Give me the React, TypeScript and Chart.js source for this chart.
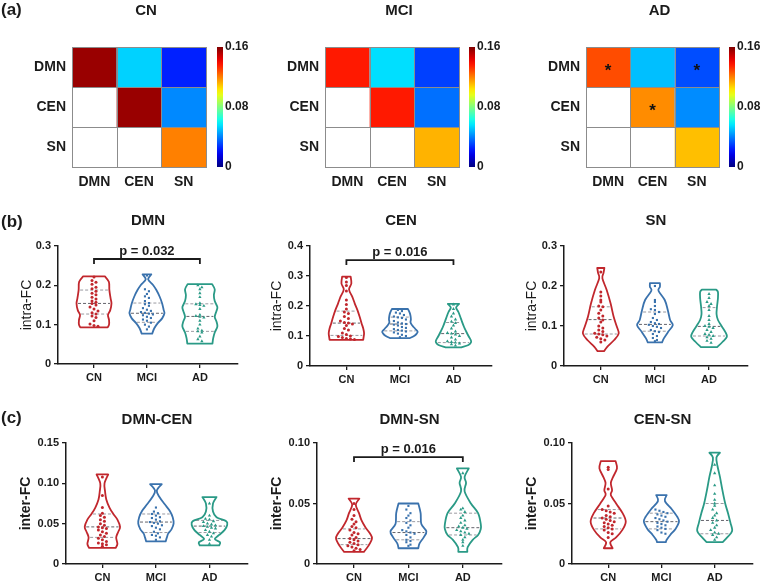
import React, { useEffect, useRef } from 'react';
import { Chart, registerables } from 'chart.js';

Chart.register(...registerables);

const FONT_FAMILY = '"Liberation Sans", Arial, Helvetica, sans-serif';
const INK = '#1b1b1b';
Chart.defaults.font.family = FONT_FAMILY;
Chart.defaults.color = INK;

// ---------------- categories ----------------
const NETWORKS = ['DMN', 'CEN', 'SN'];
const GROUPS = ['CN', 'MCI', 'AD'];
const GROUP_COLORS = ['#c1272d', '#3a72ad', '#2a9a86'];
const GROUP_POINT_STYLES = ['circle', 'rect', 'triangle'];

// ---------------- (a) mean FC matrices ----------------
const FC_MAX = 0.16;
const COLORBAR_TICKS = [0, 0.08, 0.16];
const COLORBAR_LABELS = ['0', '0.08', '0.16'];
const FC_CN = [[0.156, 0.053, 0.025], [null, 0.156, 0.0415], [null, null, 0.12]];
const FC_MCI = [[0.136, 0.055, 0.03], [null, 0.136, 0.0376], [null, null, 0.112]];
const FC_AD = [[0.128, 0.05, 0.032], [null, 0.118, 0.042], [null, null, 0.11]];
const SIG_NONE = [[false, false, false], [false, false, false], [false, false, false]];
const SIG_AD = [[true, false, true], [false, true, false], [false, false, false]];

// ---------------- (b) intra-FC ----------------
const INTRA_TICKS_03 = [0, 0.1, 0.2, 0.3];
const INTRA_LABELS_03 = ['0', '0.1', '0.2', '0.3'];
const INTRA_TICKS_04 = [0, 0.1, 0.2, 0.3, 0.4];
const INTRA_LABELS_04 = ['0', '0.1', '0.2', '0.3', '0.4'];

const DMN_VALUES = [
  [0.221, 0.212, 0.208, 0.203, 0.195, 0.191, 0.185, 0.18, 0.176, 0.17, 0.165, 0.16, 0.157, 0.154, 0.15, 0.145, 0.14, 0.135, 0.13, 0.127, 0.122, 0.118, 0.11, 0.102, 0.098, 0.096],
  [0.225, 0.19, 0.185, 0.178, 0.172, 0.168, 0.16, 0.155, 0.152, 0.148, 0.142, 0.138, 0.135, 0.132, 0.13, 0.128, 0.126, 0.124, 0.12, 0.117, 0.113, 0.11, 0.105, 0.1, 0.095, 0.088],
  [0.2, 0.195, 0.19, 0.18, 0.17, 0.155, 0.152, 0.15, 0.148, 0.14, 0.125, 0.122, 0.12, 0.118, 0.11, 0.1, 0.09, 0.085, 0.083, 0.08, 0.07, 0.063, 0.058],
];
const DMN_SHAPE_Y = [
  [0.093, 0.1, 0.112, 0.125, 0.137, 0.154, 0.167, 0.188, 0.209, 0.223],
  [0.077, 0.091, 0.104, 0.116, 0.129, 0.137, 0.154, 0.171, 0.188, 0.201, 0.215, 0.228],
  [0.052, 0.065, 0.08, 0.095, 0.108, 0.12, 0.135, 0.145, 0.16, 0.175, 0.19, 0.203],
];
const DMN_SHAPE_W = [
  [0.78, 0.86, 0.86, 0.8, 0.93, 1.0, 0.95, 0.88, 0.85, 0.62],
  [0.3, 0.42, 0.62, 0.87, 1.0, 0.96, 0.87, 0.73, 0.54, 0.35, 0.07, 0.25],
  [0.72, 0.76, 0.85, 1.0, 0.95, 0.85, 0.95, 1.0, 0.85, 0.8, 0.85, 0.7],
];
const DMN_QUARTILES = [[0.127, 0.154, 0.188], [0.106, 0.129, 0.155], [0.083, 0.121, 0.153]];

const CEN_VALUES = [
  [0.295, 0.28, 0.268, 0.25, 0.22, 0.205, 0.19, 0.18, 0.175, 0.165, 0.158, 0.15, 0.145, 0.143, 0.14, 0.135, 0.125, 0.12, 0.11, 0.105, 0.1, 0.098, 0.095, 0.092, 0.09, 0.088],
  [0.187, 0.183, 0.178, 0.175, 0.17, 0.165, 0.162, 0.16, 0.155, 0.15, 0.145, 0.142, 0.14, 0.138, 0.135, 0.13, 0.127, 0.123, 0.12, 0.118, 0.115, 0.112, 0.108, 0.104, 0.1, 0.096],
  [0.205, 0.19, 0.175, 0.165, 0.155, 0.148, 0.143, 0.135, 0.125, 0.115, 0.11, 0.108, 0.105, 0.1, 0.095, 0.088, 0.082, 0.08, 0.078, 0.075, 0.072, 0.068],
];
const CEN_SHAPE_Y = [
  [0.087, 0.098, 0.11, 0.126, 0.142, 0.164, 0.187, 0.209, 0.231, 0.255, 0.275, 0.298],
  [0.093, 0.1, 0.108, 0.115, 0.125, 0.135, 0.145, 0.155, 0.167, 0.178, 0.19],
  [0.062, 0.07, 0.08, 0.09, 0.1, 0.115, 0.13, 0.15, 0.165, 0.18, 0.195, 0.207],
];
const CEN_SHAPE_W = [
  [0.95, 0.98, 1.0, 0.95, 0.86, 0.75, 0.62, 0.47, 0.33, 0.15, 0.28, 0.24],
  [0.55, 0.8, 0.95, 1.0, 0.85, 0.7, 0.6, 0.62, 0.6, 0.55, 0.45],
  [0.45, 0.85, 1.0, 0.95, 0.85, 0.72, 0.6, 0.47, 0.38, 0.28, 0.15, 0.32],
];
const CEN_QUARTILES = [[0.102, 0.143, 0.183], [0.117, 0.14, 0.163], [0.078, 0.108, 0.145]];

const SN_VALUES = [
  [0.235, 0.185, 0.175, 0.165, 0.16, 0.15, 0.148, 0.14, 0.132, 0.125, 0.12, 0.115, 0.11, 0.1, 0.095, 0.09, 0.086, 0.082, 0.08, 0.078, 0.075, 0.072, 0.068, 0.065, 0.06],
  [0.2, 0.165, 0.16, 0.15, 0.142, 0.14, 0.135, 0.13, 0.12, 0.115, 0.11, 0.107, 0.105, 0.103, 0.1, 0.098, 0.095, 0.09, 0.087, 0.085, 0.08, 0.075, 0.07, 0.065, 0.062],
  [0.18, 0.17, 0.16, 0.155, 0.15, 0.14, 0.125, 0.115, 0.105, 0.1, 0.098, 0.095, 0.09, 0.085, 0.08, 0.078, 0.075, 0.072, 0.068, 0.063, 0.058],
];
const SN_SHAPE_Y = [
  [0.037, 0.048, 0.065, 0.081, 0.098, 0.123, 0.156, 0.19, 0.219, 0.232, 0.245],
  [0.059, 0.069, 0.086, 0.102, 0.115, 0.14, 0.165, 0.188, 0.198, 0.207],
  [0.047, 0.06, 0.073, 0.086, 0.1, 0.115, 0.13, 0.15, 0.17, 0.185, 0.191],
];
const SN_SHAPE_W = [
  [0.18, 0.36, 0.75, 1.0, 0.9, 0.72, 0.55, 0.33, 0.09, 0.15, 0.2],
  [0.4, 0.5, 0.75, 1.0, 0.85, 0.72, 0.55, 0.2, 0.28, 0.28],
  [0.45, 0.75, 1.0, 0.9, 0.7, 0.5, 0.42, 0.45, 0.5, 0.5, 0.4],
];
const SN_QUARTILES = [[0.08, 0.116, 0.148], [0.087, 0.104, 0.135], [0.075, 0.099, 0.146]];

// ---------------- (c) inter-FC ----------------
const INTER_TICKS_15 = [0, 0.05, 0.1, 0.15];
const INTER_LABELS_15 = ['0', '0.05', '0.10', '0.15'];
const INTER_TICKS_10 = [0, 0.05, 0.1];
const INTER_LABELS_10 = ['0', '0.05', '0.10'];

const DMNCEN_VALUES = [
  [0.108, 0.085, 0.07, 0.063, 0.06, 0.058, 0.055, 0.053, 0.05, 0.048, 0.046, 0.045, 0.044, 0.042, 0.04, 0.038, 0.036, 0.034, 0.032, 0.03, 0.028, 0.026, 0.025, 0.024, 0.022],
  [0.07, 0.065, 0.063, 0.062, 0.06, 0.058, 0.057, 0.055, 0.053, 0.052, 0.051, 0.05, 0.048, 0.047, 0.045, 0.043, 0.04, 0.038, 0.036, 0.035, 0.033, 0.03],
  [0.075, 0.06, 0.056, 0.055, 0.053, 0.052, 0.05, 0.049, 0.048, 0.047, 0.046, 0.045, 0.044, 0.042, 0.04, 0.038, 0.036, 0.034, 0.03, 0.025],
];
const DMNCEN_SHAPE_Y = [
  [0.02, 0.025, 0.033, 0.04, 0.046, 0.055, 0.062, 0.07, 0.08, 0.09, 0.1, 0.111],
  [0.028, 0.033, 0.038, 0.043, 0.05, 0.058, 0.066, 0.074, 0.083, 0.091, 0.099],
  [0.023, 0.027, 0.031, 0.036, 0.042, 0.048, 0.053, 0.058, 0.065, 0.075, 0.083],
];
const DMNCEN_SHAPE_W = [
  [0.75, 0.85, 0.78, 0.9, 1.0, 0.85, 0.62, 0.4, 0.22, 0.15, 0.12, 0.33],
  [0.55, 0.62, 0.7, 0.88, 1.0, 0.95, 0.78, 0.5, 0.2, 0.05, 0.33],
  [0.55, 0.6, 0.3, 0.55, 0.85, 1.0, 0.95, 0.4, 0.2, 0.2, 0.4],
];
const DMNCEN_QUARTILES = [[0.033, 0.046, 0.062], [0.039, 0.052, 0.062], [0.039, 0.047, 0.054]];

const DMNSN_VALUES = [
  [0.05, 0.045, 0.04, 0.037, 0.035, 0.033, 0.031, 0.03, 0.028, 0.026, 0.025, 0.024, 0.022, 0.021, 0.02, 0.019, 0.018, 0.017, 0.016, 0.015, 0.014, 0.013, 0.012, 0.011],
  [0.048, 0.045, 0.042, 0.04, 0.038, 0.036, 0.034, 0.032, 0.03, 0.028, 0.027, 0.026, 0.025, 0.024, 0.022, 0.02, 0.019, 0.018, 0.016, 0.015],
  [0.075, 0.046, 0.045, 0.043, 0.04, 0.038, 0.036, 0.034, 0.032, 0.031, 0.03, 0.029, 0.028, 0.027, 0.026, 0.025, 0.024, 0.022, 0.02, 0.018, 0.015],
];
const DMNSN_SHAPE_Y = [
  [0.01, 0.015, 0.021, 0.025, 0.03, 0.036, 0.042, 0.049, 0.054],
  [0.013, 0.017, 0.022, 0.027, 0.033, 0.042, 0.05],
  [0.01, 0.014, 0.02, 0.024, 0.029, 0.033, 0.042, 0.05, 0.06, 0.067, 0.072, 0.079],
];
const DMNSN_SHAPE_W = [
  [0.55, 0.8, 1.0, 0.9, 0.65, 0.42, 0.28, 0.1, 0.3],
  [0.55, 0.62, 0.85, 1.0, 0.72, 0.68, 0.55],
  [0.25, 0.27, 0.55, 0.85, 1.0, 1.0, 0.85, 0.45, 0.1, 0.18, 0.1, 0.33],
];
const DMNSN_QUARTILES = [[0.016, 0.021, 0.029], [0.02, 0.026, 0.035], [0.024, 0.03, 0.042]];

const CENSN_VALUES = [
  [0.08, 0.078, 0.062, 0.048, 0.045, 0.044, 0.043, 0.042, 0.04, 0.039, 0.038, 0.037, 0.036, 0.035, 0.034, 0.033, 0.032, 0.031, 0.03, 0.029, 0.028, 0.026, 0.025, 0.022],
  [0.045, 0.044, 0.043, 0.042, 0.041, 0.04, 0.039, 0.038, 0.037, 0.036, 0.035, 0.034, 0.033, 0.032, 0.031, 0.03, 0.029, 0.028, 0.026, 0.025],
  [0.082, 0.075, 0.065, 0.058, 0.053, 0.05, 0.048, 0.045, 0.042, 0.04, 0.038, 0.036, 0.034, 0.032, 0.03, 0.028, 0.026, 0.025, 0.024, 0.022, 0.02],
];
const CENSN_SHAPE_Y = [
  [0.013, 0.018, 0.022, 0.028, 0.035, 0.042, 0.05, 0.057, 0.061, 0.067, 0.072, 0.079, 0.085],
  [0.018, 0.02, 0.024, 0.029, 0.035, 0.039, 0.045, 0.052, 0.057],
  [0.018, 0.021, 0.025, 0.028, 0.034, 0.042, 0.05, 0.061, 0.072, 0.081, 0.088, 0.092],
];
const CENSN_SHAPE_W = [
  [0.25, 0.12, 0.45, 0.8, 1.0, 0.82, 0.45, 0.15, 0.22, 0.15, 0.28, 0.5, 0.42],
  [0.25, 0.3, 0.5, 0.8, 1.0, 0.9, 0.6, 0.2, 0.3],
  [0.45, 0.65, 0.9, 1.0, 0.9, 0.76, 0.6, 0.44, 0.3, 0.16, 0.1, 0.3],
];
const CENSN_QUARTILES = [[0.029, 0.038, 0.045], [0.029, 0.035, 0.042], [0.025, 0.036, 0.05]];

// significance brackets: [fromGroup, toGroup, yValue, label]
const DMN_BRACKET = { from: 0, to: 2, y: 0.267, text: 'p = 0.032' };
const CEN_BRACKET = { from: 0, to: 2, y: 0.353, text: 'p = 0.016' };
const DMNSN_BRACKET = { from: 0, to: 2, y: 0.0884, text: 'p = 0.016' };

// ---------------- helpers ----------------
const clamp01 = (v: number) => Math.max(0, Math.min(1, v));
function jet(t: number) {
  t = clamp01(t);
  const r = clamp01(1.5 - Math.abs(4 * t - 3));
  const g = clamp01(1.5 - Math.abs(4 * t - 2));
  const b = clamp01(1.5 - Math.abs(4 * t - 1));
  return `rgb(${Math.round(r * 255)},${Math.round(g * 255)},${Math.round(b * 255)})`;
}

function swarmOffsets(values: number[], bin: number, step: number) {
  const groups = new Map<number, number[]>();
  values.forEach((v, i) => {
    const k = Math.round(v / bin);
    if (!groups.has(k)) groups.set(k, []);
    groups.get(k)!.push(i);
  });
  const out = new Array(values.length).fill(0);
  groups.forEach((idx) => {
    const n = idx.length;
    idx.forEach((i, j) => {
      out[i] = (j - (n - 1) / 2) * step;
    });
  });
  return out;
}

function curveThrough(ctx: CanvasRenderingContext2D, pts: number[][]) {
  for (let i = 0; i < pts.length - 1; i++) {
    const p0 = pts[Math.max(0, i - 1)];
    const p1 = pts[i];
    const p2 = pts[i + 1];
    const p3 = pts[Math.min(pts.length - 1, i + 2)];
    ctx.bezierCurveTo(
      p1[0] + (p2[0] - p0[0]) / 6, p1[1] + (p2[1] - p0[1]) / 6,
      p2[0] - (p3[0] - p1[0]) / 6, p2[1] - (p3[1] - p1[1]) / 6,
      p2[0], p2[1]
    );
  }
}

function interp(ys: number[], ws: number[], q: number) {
  if (q <= ys[0]) return ws[0];
  for (let k = 0; k < ys.length - 1; k++) {
    if (q >= ys[k] && q <= ys[k + 1]) {
      const f = (q - ys[k]) / (ys[k + 1] - ys[k]);
      return ws[k] + f * (ws[k + 1] - ws[k]);
    }
  }
  return ws[ws.length - 1];
}

const VIOLIN_HALF = 0.33;
const X_MIN = -0.68;
const X_MAX = 2.72;

type Box = { left: number; top: number; width: number; height: number };

type ViolinPanel = {
  title: string;
  yTitle: string;
  yTitleBold: boolean;
  yTicks: number[];
  yLabels: string[];
  values: number[][];
  shapeY: number[][];
  shapeW: number[][];
  quartiles: number[][];
  bracket?: { from: number; to: number; y: number; text: string };
  letter?: string;
  box: Box;
  yAxisW: number;
  xAxisH: number;
  padTop: number;
  padRight: number;
  yTitleX: number;
  titleDy: number;
  letterY?: number;
};

const VIOLIN_PANELS: ViolinPanel[] = [
  {
    title: 'DMN', yTitle: 'intra-FC', yTitleBold: false, yTicks: INTRA_TICKS_03, yLabels: INTRA_LABELS_03,
    values: DMN_VALUES, shapeY: DMN_SHAPE_Y, shapeW: DMN_SHAPE_W, quartiles: DMN_QUARTILES, bracket: DMN_BRACKET,
    letter: '(b)', letterY: 27,
    box: { left: 0, top: 195, width: 250, height: 195 }, yAxisW: 58, xAxisH: 26, padTop: 51, padRight: 12, yTitleX: 27, titleDy: 25,
  },
  {
    title: 'CEN', yTitle: 'intra-FC', yTitleBold: false, yTicks: INTRA_TICKS_04, yLabels: INTRA_LABELS_04,
    values: CEN_VALUES, shapeY: CEN_SHAPE_Y, shapeW: CEN_SHAPE_W, quartiles: CEN_QUARTILES, bracket: CEN_BRACKET,
    box: { left: 255, top: 195, width: 245, height: 195 }, yAxisW: 55, xAxisH: 24, padTop: 51, padRight: 8, yTitleX: 22, titleDy: 25,
  },
  {
    title: 'SN', yTitle: 'intra-FC', yTitleBold: false, yTicks: INTRA_TICKS_03, yLabels: INTRA_LABELS_03,
    values: SN_VALUES, shapeY: SN_SHAPE_Y, shapeW: SN_SHAPE_W, quartiles: SN_QUARTILES,
    box: { left: 510, top: 195, width: 251, height: 195 }, yAxisW: 54, xAxisH: 24, padTop: 51, padRight: 13, yTitleX: 22, titleDy: 25,
  },
  {
    title: 'DMN-CEN', yTitle: 'inter-FC', yTitleBold: true, yTicks: INTER_TICKS_15, yLabels: INTER_LABELS_15,
    values: DMNCEN_VALUES, shapeY: DMNCEN_SHAPE_Y, shapeW: DMNCEN_SHAPE_W, quartiles: DMNCEN_QUARTILES,
    letter: '(c)', letterY: 26,
    box: { left: 0, top: 392, width: 255, height: 190 }, yAxisW: 66, xAxisH: 18, padTop: 51, padRight: 7, yTitleX: 26, titleDy: 23,
  },
  {
    title: 'DMN-SN', yTitle: 'inter-FC', yTitleBold: true, yTicks: INTER_TICKS_10, yLabels: INTER_LABELS_10,
    values: DMNSN_VALUES, shapeY: DMNSN_SHAPE_Y, shapeW: DMNSN_SHAPE_W, quartiles: DMNSN_QUARTILES, bracket: DMNSN_BRACKET,
    box: { left: 258, top: 392, width: 250, height: 190 }, yAxisW: 59, xAxisH: 18, padTop: 51, padRight: 6, yTitleX: 19, titleDy: 23,
  },
  {
    title: 'CEN-SN', yTitle: 'inter-FC', yTitleBold: true, yTicks: INTER_TICKS_10, yLabels: INTER_LABELS_10,
    values: CENSN_VALUES, shapeY: CENSN_SHAPE_Y, shapeW: CENSN_SHAPE_W, quartiles: CENSN_QUARTILES,
    box: { left: 512, top: 392, width: 249, height: 190 }, yAxisW: 60, xAxisH: 18, padTop: 51, padRight: 8, yTitleX: 20, titleDy: 23,
  },
];

type HeatPanel = {
  title: string;
  values: (number | null)[][];
  sig: boolean[][];
  letter?: string;
  box: Box;
  yAxisW: number;
  padRight: number;
  barBox: Box;
};

const HEAT_PANELS: HeatPanel[] = [
  { title: 'CN', values: FC_CN, sig: SIG_NONE, letter: '(a)', box: { left: 0, top: 0, width: 212, height: 195 }, yAxisW: 72, padRight: 6, barBox: { left: 217, top: 0, width: 40, height: 195 } },
  { title: 'MCI', values: FC_MCI, sig: SIG_NONE, box: { left: 253, top: 0, width: 210, height: 195 }, yAxisW: 72, padRight: 4, barBox: { left: 469, top: 0, width: 40, height: 195 } },
  { title: 'AD', values: FC_AD, sig: SIG_AD, box: { left: 514, top: 0, width: 209, height: 195 }, yAxisW: 72, padRight: 4, barBox: { left: 729, top: 0, width: 32, height: 195 } },
];
const HEAT_TOP = 47;
const HEAT_BOTTOM_AXIS = 28;

const boldFont = (size: number) => ({ size, weight: 'bold' as const, family: FONT_FAMILY });

// ---------------- violin chart ----------------
function ViolinChart({ p }: { p: ViolinPanel }) {
  const ref = useRef<HTMLCanvasElement>(null);
  useEffect(() => {
    const yMax = p.yTicks[p.yTicks.length - 1];
    const datasets = GROUPS.map((g, gi) => {
      const offs = swarmOffsets(p.values[gi], yMax / 30, 0.075);
      return {
        label: g,
        data: p.values[gi].map((v, k) => ({ x: gi + offs[k], y: v })),
        pointStyle: GROUP_POINT_STYLES[gi],
        pointRadius: gi === 2 ? 1.9 : 1.5,
        backgroundColor: GROUP_COLORS[gi],
        borderColor: GROUP_COLORS[gi],
        borderWidth: 0,
        showLine: false,
      };
    });
    const plugin = {
      id: 'violins',
      beforeDatasetsDraw(chart: any) {
        const ctx: CanvasRenderingContext2D = chart.ctx;
        const xs = chart.scales.x;
        const ys = chart.scales.y;
        GROUPS.forEach((_, gi) => {
          const cx = xs.getPixelForValue(gi);
          const half = xs.getPixelForValue(gi + VIOLIN_HALF) - cx;
          const yv = p.shapeY[gi];
          const wv = p.shapeW[gi];
          const R = yv.map((v, k) => [cx + wv[k] * half, ys.getPixelForValue(v)]);
          const L = yv.map((v, k) => [cx - wv[k] * half, ys.getPixelForValue(v)]);
          ctx.save();
          ctx.beginPath();
          ctx.moveTo(L[0][0], L[0][1]);
          ctx.lineTo(R[0][0], R[0][1]);
          curveThrough(ctx, R);
          ctx.lineTo(L[L.length - 1][0], L[L.length - 1][1]);
          curveThrough(ctx, L.slice().reverse());
          ctx.closePath();
          ctx.lineWidth = 1.8;
          ctx.lineJoin = 'round';
          ctx.strokeStyle = GROUP_COLORS[gi];
          ctx.stroke();
          p.quartiles[gi].forEach((q, qi) => {
            const w = interp(yv, wv, q) * half - 1.5;
            const py = ys.getPixelForValue(q);
            ctx.beginPath();
            ctx.setLineDash([3, 2]);
            ctx.lineWidth = 1;
            ctx.strokeStyle = qi === 1 ? 'rgba(70,70,80,0.85)' : 'rgba(110,110,120,0.7)';
            ctx.moveTo(cx - w, py);
            ctx.lineTo(cx + w, py);
            ctx.stroke();
          });
          ctx.restore();
        });
      },
      afterDraw(chart: any) {
        const ctx: CanvasRenderingContext2D = chart.ctx;
        const a = chart.chartArea;
        ctx.save();
        ctx.fillStyle = INK;
        ctx.textAlign = 'center';
        ctx.textBaseline = 'middle';
        ctx.font = `bold 15px ${FONT_FAMILY}`;
        ctx.fillText(p.title, (a.left + a.right) / 2, a.top - p.titleDy);
        if (p.letter) {
          ctx.textAlign = 'left';
          ctx.font = `bold 17px ${FONT_FAMILY}`;
          ctx.fillText(p.letter, 1, p.letterY || 26);
        }
        if (p.bracket) {
          const xs = chart.scales.x;
          const ys = chart.scales.y;
          const x0 = xs.getPixelForValue(p.bracket.from);
          const x1 = xs.getPixelForValue(p.bracket.to);
          const y = ys.getPixelForValue(p.bracket.y);
          ctx.beginPath();
          ctx.lineWidth = 1.8;
          ctx.strokeStyle = INK;
          ctx.moveTo(x0, y + 5);
          ctx.lineTo(x0, y);
          ctx.lineTo(x1, y);
          ctx.lineTo(x1, y + 5);
          ctx.stroke();
          ctx.textAlign = 'center';
          ctx.textBaseline = 'alphabetic';
          ctx.font = `bold 13px ${FONT_FAMILY}`;
          ctx.fillText(p.bracket.text, (x0 + x1) / 2, y - 4);
        }
        ctx.restore();
      },
    };
    const axisGrid = { display: true, drawOnChartArea: false, drawTicks: true, tickLength: 4, color: INK, lineWidth: 1.3 };
    const axisBorder = { display: true, color: INK, width: 1.5 };
    const chart = new Chart(ref.current as HTMLCanvasElement, {
      type: 'scatter',
      data: { datasets } as any,
      options: {
        responsive: false,
        animation: false,
        layout: { padding: { top: p.padTop, right: p.padRight, left: 0, bottom: 0 } },
        plugins: { legend: { display: false }, tooltip: { enabled: false }, title: { display: false } },
        scales: {
          x: {
            type: 'linear',
            min: X_MIN,
            max: X_MAX,
            afterBuildTicks: (s: any) => { s.ticks = GROUPS.map((_, i) => ({ value: i })); },
            afterFit: (s: any) => { s.height = p.xAxisH; },
            ticks: { callback: (v: any) => GROUPS[Math.round(Number(v))], font: boldFont(11), color: INK, padding: 3, autoSkip: false, maxRotation: 0 },
            grid: axisGrid,
            border: axisBorder,
          },
          y: {
            type: 'linear',
            min: 0,
            max: yMax,
            afterBuildTicks: (s: any) => { s.ticks = p.yTicks.map((v) => ({ value: v })); },
            afterFit: (s: any) => { s.width = p.yAxisW; },
            ticks: { callback: (_v: any, i: number) => p.yLabels[i], font: boldFont(11), color: INK, padding: 3, autoSkip: false },
            grid: axisGrid,
            border: axisBorder,
            title: {
              display: true,
              text: p.yTitle,
              color: INK,
              font: { size: 14, weight: p.yTitleBold ? 'bold' : 'normal', family: FONT_FAMILY },
              padding: { top: p.yTitleX - 8.4, bottom: 0 },
            },
          },
        },
      } as any,
      plugins: [plugin],
    });
    return () => chart.destroy();
  }, []);
  return (
    <div style={{ position: 'absolute', left: p.box.left, top: p.box.top, width: p.box.width, height: p.box.height }}>
      <canvas ref={ref} width={p.box.width} height={p.box.height} />
    </div>
  );
}

// ---------------- heatmap chart ----------------
function HeatmapChart({ p }: { p: HeatPanel }) {
  const ref = useRef<HTMLCanvasElement>(null);
  useEffect(() => {
    const cells: any[] = [];
    p.values.forEach((row, r) => row.forEach((v, c) => cells.push({ x: c + 0.5, y: r + 0.5, v, r, c })));
    const plugin = {
      id: 'cells',
      beforeDatasetsDraw(chart: any) {
        const ctx: CanvasRenderingContext2D = chart.ctx;
        const xs = chart.scales.x;
        const ys = chart.scales.y;
        ctx.save();
        cells.forEach((cell) => {
          const x0 = xs.getPixelForValue(cell.c);
          const x1 = xs.getPixelForValue(cell.c + 1);
          const y0 = ys.getPixelForValue(cell.r);
          const y1 = ys.getPixelForValue(cell.r + 1);
          ctx.fillStyle = cell.v == null ? '#ffffff' : jet(cell.v / FC_MAX);
          ctx.fillRect(x0, y0, x1 - x0, y1 - y0);
        });
        ctx.strokeStyle = '#8c8c8c';
        ctx.lineWidth = 1;
        cells.forEach((cell) => {
          const x0 = Math.round(xs.getPixelForValue(cell.c)) + 0.5;
          const x1 = Math.round(xs.getPixelForValue(cell.c + 1)) + 0.5;
          const y0 = Math.round(ys.getPixelForValue(cell.r)) + 0.5;
          const y1 = Math.round(ys.getPixelForValue(cell.r + 1)) + 0.5;
          ctx.strokeRect(x0, y0, x1 - x0, y1 - y0);
        });
        ctx.fillStyle = '#111';
        ctx.font = `bold 17px ${FONT_FAMILY}`;
        ctx.textAlign = 'center';
        ctx.textBaseline = 'middle';
        cells.forEach((cell) => {
          if (p.sig[cell.r][cell.c]) {
            ctx.fillText('*', xs.getPixelForValue(cell.x), ys.getPixelForValue(cell.y) + 4);
          }
        });
        ctx.restore();
      },
      afterDraw(chart: any) {
        const ctx: CanvasRenderingContext2D = chart.ctx;
        const a = chart.chartArea;
        ctx.save();
        ctx.fillStyle = INK;
        ctx.textAlign = 'center';
        ctx.textBaseline = 'middle';
        ctx.font = `bold 15px ${FONT_FAMILY}`;
        ctx.fillText(p.title, (a.left + a.right) / 2 + 7, 11);
        if (p.letter) {
          ctx.textAlign = 'left';
          ctx.font = `bold 17px ${FONT_FAMILY}`;
          ctx.fillText(p.letter, 1, 10);
        }
        ctx.restore();
      },
    };
    const hidden = { display: false, drawTicks: false };
    const chart = new Chart(ref.current as HTMLCanvasElement, {
      type: 'scatter',
      data: { datasets: [{ label: 'FC', data: cells, pointRadius: 0 }] } as any,
      options: {
        responsive: false,
        animation: false,
        layout: { padding: { top: HEAT_TOP, right: p.padRight, left: 0, bottom: 0 } },
        plugins: { legend: { display: false }, tooltip: { enabled: false } },
        scales: {
          x: {
            type: 'linear', min: 0, max: 3,
            afterBuildTicks: (s: any) => { s.ticks = NETWORKS.map((_, i) => ({ value: i + 0.5 })); },
            afterFit: (s: any) => { s.height = HEAT_BOTTOM_AXIS; },
            ticks: { callback: (_v: any, i: number) => NETWORKS[i], font: boldFont(14), color: INK, padding: 7, autoSkip: false, maxRotation: 0 },
            grid: hidden,
            border: { display: false },
          },
          y: {
            type: 'linear', min: 0, max: 3, reverse: true,
            afterBuildTicks: (s: any) => { s.ticks = NETWORKS.map((_, i) => ({ value: i + 0.5 })); },
            afterFit: (s: any) => { s.width = p.yAxisW; },
            ticks: { callback: (_v: any, i: number) => NETWORKS[i], font: boldFont(14), color: INK, padding: 6, autoSkip: false },
            grid: hidden,
            border: { display: false },
          },
        },
      } as any,
      plugins: [plugin],
    });
    return () => chart.destroy();
  }, []);
  return (
    <div style={{ position: 'absolute', left: p.box.left, top: p.box.top, width: p.box.width, height: p.box.height }}>
      <canvas ref={ref} width={p.box.width} height={p.box.height} />
    </div>
  );
}

// ---------------- colour bar ----------------
function ColorBar({ box }: { box: Box }) {
  const ref = useRef<HTMLCanvasElement>(null);
  useEffect(() => {
    const chart = new Chart(ref.current as HTMLCanvasElement, {
      type: 'bar',
      data: {
        labels: ['FC'],
        datasets: [{
          data: [[COLORBAR_TICKS[0], COLORBAR_TICKS[COLORBAR_TICKS.length - 1]]],
          barPercentage: 1,
          categoryPercentage: 1,
          borderWidth: 0,
          backgroundColor: (c: any) => {
            const area = c.chart.chartArea;
            if (!area) return '#888';
            const g = c.chart.ctx.createLinearGradient(0, area.bottom, 0, area.top);
            for (let i = 0; i <= 20; i++) g.addColorStop(i / 20, jet(i / 20));
            return g;
          },
        }],
      } as any,
      options: {
        responsive: false,
        animation: false,
        layout: { padding: { top: HEAT_TOP, bottom: HEAT_BOTTOM_AXIS, left: 0, right: 0 } },
        plugins: { legend: { display: false }, tooltip: { enabled: false } },
        scales: {
          x: { display: false },
          y: {
            position: 'right',
            min: COLORBAR_TICKS[0],
            max: COLORBAR_TICKS[COLORBAR_TICKS.length - 1],
            afterBuildTicks: (s: any) => { s.ticks = COLORBAR_TICKS.map((v) => ({ value: v })); },
            afterFit: (s: any) => { s.width = box.width - 6; },
            ticks: { callback: (_v: any, i: number) => COLORBAR_LABELS[i], font: boldFont(12), color: INK, padding: 2, autoSkip: false },
            grid: { display: false, drawTicks: false },
            border: { display: false },
          },
        },
      } as any,
    });
    return () => chart.destroy();
  }, []);
  return (
    <div style={{ position: 'absolute', left: box.left, top: box.top, width: box.width, height: box.height }}>
      <canvas ref={ref} width={box.width} height={box.height} />
    </div>
  );
}

export default function App() {
  return (
    <div style={{ position: 'absolute', left: 0, top: 0, width: 761, height: 582, background: '#ffffff', overflow: 'hidden' }}>
      {HEAT_PANELS.map((p) => (
        <React.Fragment key={p.title}>
          <HeatmapChart p={p} />
          <ColorBar box={p.barBox} />
        </React.Fragment>
      ))}
      {VIOLIN_PANELS.map((p) => (
        <ViolinChart key={p.title} p={p} />
      ))}
    </div>
  );
}
